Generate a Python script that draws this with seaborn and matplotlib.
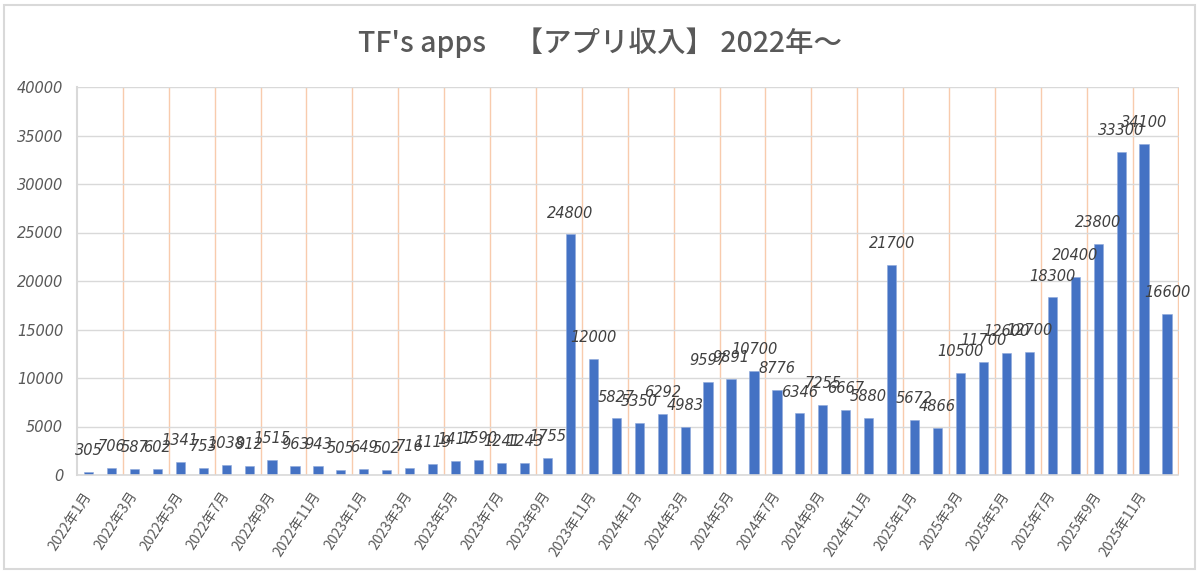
import matplotlib
matplotlib.use("Agg")
import matplotlib.pyplot as plt
import seaborn as sns
import pandas as pd
from matplotlib.patches import Rectangle

# ---- data ----
months = [f"{y}年{m}月" for y in (2022, 2023, 2024, 2025) for m in range(1, 13)]
revenue = [305, 706, 587, 602, 1341, 753, 1038, 912, 1515, 963, 943, 505,
           649, 502, 716, 1119, 1417, 1590, 1241, 1243, 1755, 24800, 12000, 5827,
           5350, 6292, 4983, 9597, 9891, 10700, 8776, 6346, 7255, 6667, 5880, 21700,
           5672, 4866, 10500, 11700, 12600, 12700, 18300, 20400, 23800, 33300, 34100, 16600]
y_ticks = [0, 5000, 10000, 15000, 20000, 25000, 30000, 35000, 40000]
title = "TF's apps\u3000【アプリ収入】 2022年～"

df = pd.DataFrame({"month": months, "revenue": revenue})

sns.set_theme(style="white")
plt.rcParams['font.family'] = ['Noto Sans CJK JP', 'DejaVu Sans']

fig = plt.figure(figsize=(12, 5.74), dpi=100)
ax = fig.add_axes([77 / 1200, 1 - 475 / 574, (1178.5 - 77) / 1200, (475 - 87) / 574])

sns.barplot(data=df, x="month", y="revenue", order=months, color="#4472C4",
            saturation=1, width=0.4, ax=ax, edgecolor="#8EA9DB", linewidth=0.4)

ax.set_xlim(-0.5, len(months) - 0.5)
ax.set_ylim(0, 40000)
ax.set_yticks(y_ticks)
ax.set_yticklabels([str(v) for v in y_ticks], fontstyle="italic", family="DejaVu Sans",
                   fontsize=10.5, color="#595959")
ax.tick_params(axis="y", length=0, pad=10)

ax.set_xticks(range(0, len(months), 2))
ax.set_xticklabels(months[::2], rotation=57, ha="right", va="center",
                   rotation_mode="anchor", fontsize=10, color="#595959",
                   family=['Noto Sans CJK JP', 'DejaVu Sans'])
ax.tick_params(axis="x", length=0, pad=13)
ax.set_xlabel("")
ax.set_ylabel("")

# gridlines
ax.yaxis.grid(True, color="#D9D9D9", linewidth=1)
for k in range(1, len(months) // 2 + 1):
    ax.axvline(2 * k - 0.5, color="#F8CBAD", linewidth=1, zorder=0.5)
ax.set_axisbelow(True)

for s in ("top", "right"):
    ax.spines[s].set_visible(False)
ax.spines["left"].set_color("#D9D9D9")
ax.spines["left"].set_linewidth(1.5)
ax.spines["bottom"].set_color("#D9D9D9")
ax.spines["bottom"].set_linewidth(1.2)

ax.bar_label(ax.containers[0], labels=[str(v) for v in revenue], padding=10,
             fontsize=10.5, fontstyle="italic", family="DejaVu Sans", color="#404040")

fig.text(0.5, 1 - 43 / 574, title, ha="center", va="center", fontsize=20.5,
         fontweight="medium", color="#595959",
         family=['Noto Sans CJK JP', 'DejaVu Sans'])

fig.patches.append(Rectangle((4 / 1200, 5 / 574), 1191 / 1200, 564 / 574,
                             transform=fig.transFigure, fill=False,
                             edgecolor="#D9D9D9", linewidth=1.5))

fig.savefig("out.png", dpi=100)
